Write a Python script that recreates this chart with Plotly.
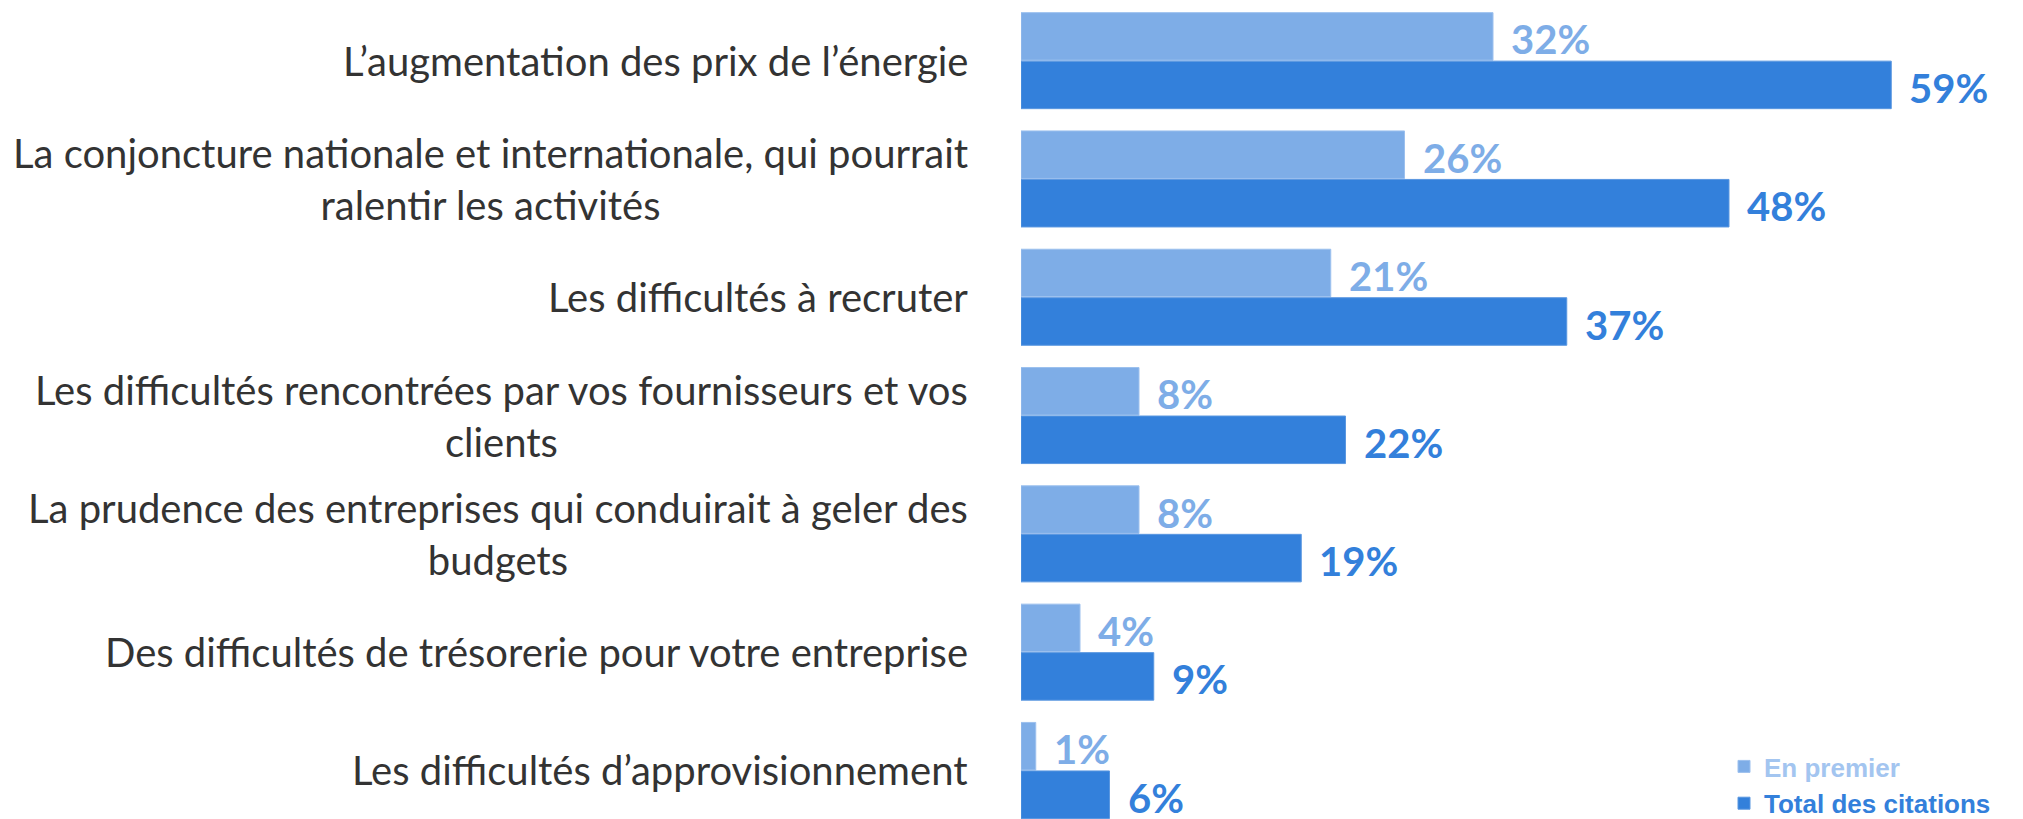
import plotly.graph_objects as go

categories = [
    "L’augmentation des prix de l’énergie",
    "La conjoncture nationale et internationale, qui pourrait<br>ralentir les activités",
    "Les difficultés à recruter",
    "Les difficultés rencontrées par vos fournisseurs et vos<br>clients",
    "La prudence des entreprises qui conduirait à geler des<br>budgets",
    "Des difficultés de trésorerie pour votre entreprise",
    "Les difficultés d’approvisionnement",
]
en_premier = [32, 26, 21, 8, 8, 4, 1]
total_citations = [59, 48, 37, 22, 19, 9, 6]
series_names = ["En premier", "Total des citations"]

LIGHT = "#7EADE7"
DARK = "#3380DB"
LEGEND_LIGHT = "#A3C5F0"

pos = list(range(len(categories)))

fig = go.Figure()
fig.add_trace(go.Bar(
    y=pos, x=en_premier, orientation="h", name=f"<b><span style='color:{LEGEND_LIGHT}'>{series_names[0]}</span></b>",
    marker=dict(color=LIGHT, line=dict(color="#9CC0EE", width=1)),
    hoverinfo="x",
))
fig.add_trace(go.Bar(
    y=pos, x=total_citations, orientation="h", name=f"<b><span style='color:{DARK}'>{series_names[1]}</span></b>",
    marker=dict(color=DARK, line=dict(color="#5A97E0", width=1)),
    hoverinfo="x",
))

annotations = []
for i, lab in enumerate(categories):
    annotations.append(dict(
        x=0, y=i, xref="x", yref="y", text=lab, showarrow=False,
        xanchor="right", yanchor="middle", align="center", xshift=-51,
        font=dict(family="Lato", size=40, color="#333333"),
    ))

off = 0.205
for i, (a, b) in enumerate(zip(en_premier, total_citations)):
    annotations.append(dict(
        x=a, y=i - off, xref="x", yref="y", text=f"<b>{a}%</b>", showarrow=False,
        xanchor="left", yanchor="middle", xshift=16, yshift=-3,
        font=dict(family="Lato", size=40, color=LIGHT),
    ))
    annotations.append(dict(
        x=b, y=i + off, xref="x", yref="y", text=f"<b>{b}%</b>", showarrow=False,
        xanchor="left", yanchor="middle", xshift=16, yshift=-3,
        font=dict(family="Lato", size=40, color=DARK),
    ))

fig.update_layout(
    width=2023, height=819,
    margin=dict(l=1013, r=0, t=0, b=0, autoexpand=False),
    paper_bgcolor="white", plot_bgcolor="white",
    barmode="group", bargap=0.18, bargroupgap=0.02,
    xaxis=dict(range=[0, 1010 / 14.75], visible=False, fixedrange=True),
    yaxis=dict(range=[6.478, -0.445], visible=False, fixedrange=True),
    showlegend=True,
    legend=dict(
        xref="container", yref="container", x=1716 / 2023, y=0,
        xanchor="left", yanchor="bottom",
        font=dict(family="Liberation Sans", size=26),
        bgcolor="rgba(0,0,0,0)", tracegroupgap=0, itemwidth=30,
    ),
    annotations=annotations,
)

fig.write_html("out.html")
